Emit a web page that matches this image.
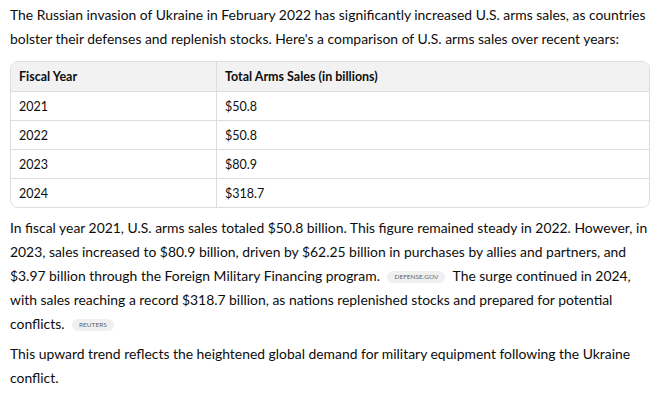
<!DOCTYPE html>
<html><head><meta charset="utf-8">
<script src="https://cdn.jsdelivr.net/npm/chart.js@4/dist/chart.umd.min.js"></script>
<style>
body{margin:0;background:#fff;font-family:Lato,"Noto Sans",sans-serif;color:#0d0d0d;font-size:13.9px;}
.wrap{padding:0 10px 0 10px;width:640px;}
p{margin:0;line-height:24px;}
.p1{padding-top:3px;}
table{border-collapse:separate;border-spacing:0;width:640px;margin:10px 0 8px 0;border:1px solid #ddd;border-radius:8px;overflow:hidden;font-size:12.5px;}
th{background:#f2f2f2;text-align:left;font-weight:700;height:29px;padding:0 8px;border-bottom:1px solid #ddd;}
td{height:28px;padding:0 8px;border-bottom:1px solid #ddd;}
tr:last-child td{border-bottom:none;}
th:first-child,td:first-child{width:189px;border-right:1px solid #ddd;}
.tag{display:inline-block;background:#f0f0f0;color:#666;font-size:6.5px;border-radius:8px;padding:2px 7px;margin:0 4px;vertical-align:middle;line-height:8px;}
.p2{margin-bottom:6px;}
</style></head><body>
<div class="wrap">
<p class="p1">The Russian invasion of Ukraine in February 2022 has significantly increased U.S. arms sales, as countries bolster their defenses and replenish stocks. Here's a comparison of U.S. arms sales over recent years:</p>
<table id="t"><thead><tr><th>Fiscal Year</th><th>Total Arms Sales (in billions)</th></tr></thead><tbody></tbody></table>
<p class="p2">In fiscal year 2021, U.S. arms sales totaled $50.8 billion. This figure remained steady in 2022. However, in 2023, sales increased to $80.9 billion, driven by $62.25 billion in purchases by allies and partners, and $3.97 billion through the Foreign Military Financing program. <span class="tag">DEFENSE.GOV</span> The surge continued in 2024, with sales reaching a record $318.7 billion, as nations replenished stocks and prepared for potential conflicts. <span class="tag">REUTERS</span></p>
<p>This upward trend reflects the heightened global demand for military equipment following the Ukraine conflict.</p>
</div>
<script>
const years=["2021","2022","2023","2024"];
const sales=[50.8,50.8,80.9,318.7];
const tb=document.querySelector('#t tbody');
years.forEach((y,i)=>{const tr=document.createElement('tr');tr.innerHTML='<td>'+y+'</td><td>$'+sales[i].toFixed(1)+'</td>';tb.appendChild(tr);});
</script>
</body></html>
